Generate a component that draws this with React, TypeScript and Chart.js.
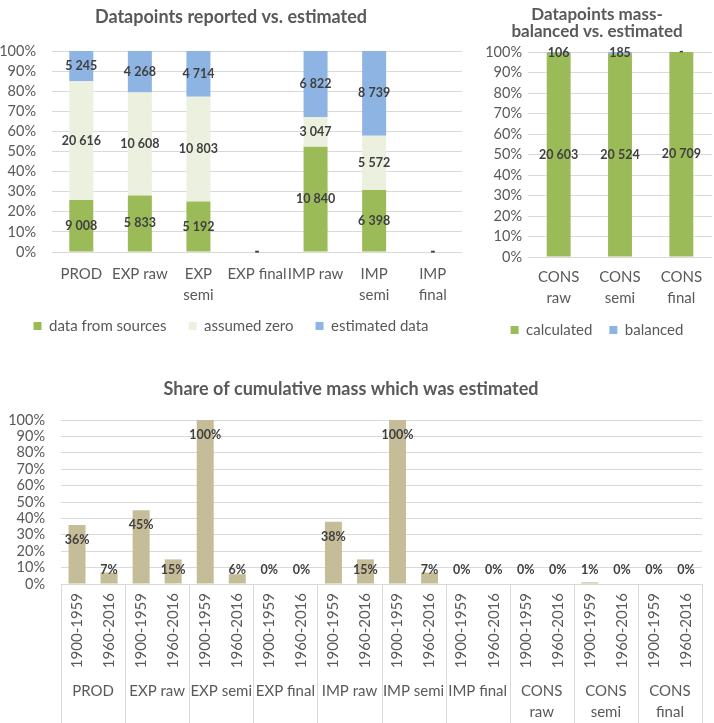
import React, { useEffect, useRef } from 'react';
import { Chart, registerables } from 'chart.js';

Chart.register(...registerables);

// ---------- data ----------
const reportCategories = [['PROD'], ['EXP raw'], ['EXP', 'semi'], ['EXP final'], ['IMP raw'], ['IMP', 'semi'], ['IMP', 'final']];
const dataFromSources = [9008, 5833, 5192, 0, 10840, 6398, 0];
const assumedZero = [20616, 10608, 10803, 0, 3047, 5572, 0];
const estimatedData = [5245, 4268, 4714, 0, 6822, 8739, 0];

const consCategories = [['CONS', 'raw'], ['CONS', 'semi'], ['CONS', 'final']];
const calculated = [20603, 20524, 20709];
const balanced = [106, 185, 0];

const massGroups = [['PROD'], ['EXP raw'], ['EXP semi'], ['EXP final'], ['IMP raw'], ['IMP semi'], ['IMP final'], ['CONS', 'raw'], ['CONS', 'semi'], ['CONS', 'final']];
const periods = ['1900-1959', '1960-2016'];
const estimatedShare = [36, 7, 45, 15, 100, 6, 0, 0, 38, 15, 100, 7, 0, 0, 0, 0, 1, 0, 0, 0];

// ---------- helpers ----------
const TEXT = '#595959';
const LABEL = '#404040';
const GRID = '#d9d9d9';
const FONT = 'Lato';

const fmt = (n: number) => String(n).replace(/\B(?=(\d{3})+(?!\d))/g, ' ');

function toPercent(series: number[][]): number[][] {
  const totals = series[0].map((_, i) => series.reduce((s, a) => s + a[i], 0));
  return series.map((a) => a.map((v, i) => (totals[i] ? (v / totals[i]) * 100 : 0)));
}

const stackLabelPlugin = {
  id: 'stackLabels',
  afterDatasetsDraw(chart: any) {
    const ctx = chart.ctx;
    ctx.save();
    ctx.font = `bold 12.5px ${FONT}`;
    ctx.fillStyle = LABEL;
    ctx.textAlign = 'center';
    ctx.textBaseline = 'middle';
    chart.data.datasets.forEach((ds: any, di: number) => {
      const meta = chart.getDatasetMeta(di);
      meta.data.forEach((el: any, i: number) => {
        const v = ds.rawValues[i];
        const txt = v === 0 ? '-' : fmt(v);
        ctx.fillText(txt, el.x, (el.y + el.base) / 2);
      });
    });
    ctx.restore();
  },
};

const valueLabelPlugin = {
  id: 'valueLabels',
  afterDatasetsDraw(chart: any) {
    const ctx = chart.ctx;
    ctx.save();
    ctx.font = `bold 12.5px ${FONT}`;
    ctx.fillStyle = LABEL;
    ctx.textAlign = 'center';
    ctx.textBaseline = 'middle';
    const ds = chart.data.datasets[0];
    chart.getDatasetMeta(0).data.forEach((el: any, i: number) => {
      const y = Math.min(el.y + 15, el.base - 14);
      ctx.fillText(`${ds.data[i]}%`, el.x, y);
    });
    ctx.restore();
  },
};

const groupAxisPlugin = {
  id: 'groupAxis',
  afterDraw(chart: any) {
    const ctx = chart.ctx;
    const xs = chart.scales.x;
    const bottom = chart.chartArea.bottom;
    const h = chart.height;
    const half = (xs.getPixelForValue(1) - xs.getPixelForValue(0)) / 2;
    ctx.save();
    ctx.strokeStyle = GRID;
    ctx.lineWidth = 1;
    ctx.fillStyle = TEXT;
    ctx.font = `15px ${FONT}`;
    ctx.textAlign = 'center';
    ctx.textBaseline = 'middle';
    massGroups.forEach((g, gi) => {
      const p0 = xs.getPixelForValue(gi * periods.length);
      const p1 = xs.getPixelForValue(gi * periods.length + periods.length - 1);
      const left = Math.round(p0 - half) + 0.5;
      ctx.beginPath();
      ctx.moveTo(left, bottom);
      ctx.lineTo(left, h);
      ctx.stroke();
      if (gi === massGroups.length - 1) {
        const right = Math.round(p1 + half) + 0.5;
        ctx.beginPath();
        ctx.moveTo(right, bottom);
        ctx.lineTo(right, h);
        ctx.stroke();
      }
      const cx = (p0 + p1) / 2;
      g.forEach((line, li) => {
        ctx.fillText(line, cx, bottom + 107 + li * 21);
      });
    });
    ctx.restore();
  },
};

const legendShift = (dy: number) => ({
  id: 'legendShift',
  afterLayout(chart: any) {
    const l = chart.legend;
    if (l) {
      l.top -= dy;
      l.bottom -= dy;
    }
  },
});

const yPercentAxis = (width: number, padding: number) => ({
  min: 0,
  max: 100,
  ticks: {
    stepSize: 10,
    autoSkip: false,
    callback: (v: any) => `${v}%`,
    color: TEXT,
    font: { family: FONT, size: 14.5 },
    padding,
  },
  grid: { color: GRID, drawTicks: false },
  border: { display: false },
  afterFit(s: any) {
    s.width = width;
  },
});

function useChart(ref: React.RefObject<HTMLCanvasElement | null>, make: () => any) {
  useEffect(() => {
    if (!ref.current) return;
    const chart = new Chart(ref.current, make());
    return () => chart.destroy();
  }, []);
}

export default function App() {
  const a = useRef<HTMLCanvasElement | null>(null);
  const b = useRef<HTMLCanvasElement | null>(null);
  const c = useRef<HTMLCanvasElement | null>(null);

  useChart(a, () => {
    const [p1, p2, p3] = toPercent([dataFromSources, assumedZero, estimatedData]);
    return {
      type: 'bar',
      data: {
        labels: reportCategories,
        datasets: [
          { label: 'data from sources', data: p1, rawValues: dataFromSources, backgroundColor: '#9BBB59' },
          { label: 'assumed zero', data: p2, rawValues: assumedZero, backgroundColor: '#EBF1DE' },
          { label: 'estimated data', data: p3, rawValues: estimatedData, backgroundColor: '#8EB4E3' },
        ],
      },
      options: {
        responsive: false,
        animation: false,
        layout: { padding: { left: 0, right: 12, top: 0, bottom: 0 } },
        datasets: { bar: { barPercentage: 0.41, categoryPercentage: 1 } },
        scales: {
          x: {
            stacked: true,
            grid: { display: false, drawTicks: false },
            border: { display: false },
            ticks: { color: TEXT, font: { family: FONT, size: 15, lineHeight: 1.4 }, padding: 11.5, maxRotation: 0, minRotation: 0, autoSkip: false },
            afterFit(s: any) { s.height = 56; },
          },
          y: { stacked: true, ...yPercentAxis(52, 16) },
        },
        plugins: {
          title: { display: true, text: 'Datapoints reported vs. estimated', color: TEXT, font: { family: FONT, size: 18, weight: 'bold', lineHeight: 1.2 }, padding: { top: 6.2, bottom: 23.2 } },
          legend: { position: 'bottom', labels: { boxWidth: 8, boxHeight: 8, padding: 22, color: TEXT, font: { family: FONT, size: 15 } } },
          tooltip: { enabled: false },
        },
      },
      plugins: [stackLabelPlugin, legendShift(11.5)],
    };
  });

  useChart(b, () => {
    const [p1, p2] = toPercent([calculated, balanced]);
    return {
      type: 'bar',
      data: {
        labels: consCategories,
        datasets: [
          { label: 'calculated', data: p1, rawValues: calculated, backgroundColor: '#9BBB59' },
          { label: 'balanced', data: p2, rawValues: balanced, backgroundColor: '#8EB4E3' },
        ],
      },
      options: {
        responsive: false,
        animation: false,
        layout: { padding: { left: 0, right: 2, top: 0, bottom: 0 } },
        datasets: { bar: { barPercentage: 0.39, categoryPercentage: 1 } },
        scales: {
          x: {
            stacked: true,
            grid: { display: false, drawTicks: false },
            border: { display: false },
            ticks: { color: TEXT, font: { family: FONT, size: 15, lineHeight: 1.4 }, padding: 9.5, maxRotation: 0, minRotation: 0, autoSkip: false },
            afterFit(s: any) { s.height = 52; },
          },
          y: { stacked: true, ...yPercentAxis(46, 6) },
        },
        plugins: {
          title: { display: true, text: ['Datapoints mass-', 'balanced vs. estimated'], color: TEXT, font: { family: FONT, size: 17, weight: 'bold', lineHeight: 1.0 }, padding: { top: 6.5, bottom: 11.5 } },
          legend: { position: 'bottom', labels: { boxWidth: 8, boxHeight: 8, padding: 17, color: TEXT, font: { family: FONT, size: 15 } } },
          tooltip: { enabled: false },
        },
      },
      plugins: [stackLabelPlugin, legendShift(3.5)],
    };
  });

  useChart(c, () => ({
    type: 'bar',
    data: {
      labels: massGroups.flatMap(() => periods),
      datasets: [{ label: 'share', data: estimatedShare, backgroundColor: '#C4BD97' }],
    },
    options: {
      responsive: false,
      animation: false,
      layout: { padding: { left: 0, right: 12, top: 0, bottom: 0 } },
      datasets: { bar: { barPercentage: 0.53, categoryPercentage: 1 } },
      scales: {
        x: {
          grid: { display: false, drawTicks: false },
          border: { display: false },
          ticks: { color: TEXT, font: { family: FONT, size: 15 }, padding: 9, maxRotation: 90, minRotation: 90, autoSkip: false },
          afterFit(s: any) { s.height = 139; },
        },
        y: yPercentAxis(61, 16),
      },
      plugins: {
        title: { display: true, text: 'Share of cumulative mass which was estimated', color: TEXT, font: { family: FONT, size: 18, weight: 'bold', lineHeight: 1.2 }, padding: { top: 18.2, bottom: 20.2 } },
        legend: { display: false },
        tooltip: { enabled: false },
      },
    },
    plugins: [valueLabelPlugin, groupAxisPlugin],
  }));

  return (
    <div style={{ position: 'absolute', left: 0, top: 0, width: 714, height: 723, background: '#fff', overflow: 'hidden' }}>
      <canvas ref={a} width={474} height={355} style={{ position: 'absolute', left: 0, top: 0 }} />
      <canvas ref={b} width={232} height={351} style={{ position: 'absolute', left: 482, top: 0 }} />
      <canvas ref={c} width={714} height={363} style={{ position: 'absolute', left: 0, top: 360 }} />
    </div>
  );
}
